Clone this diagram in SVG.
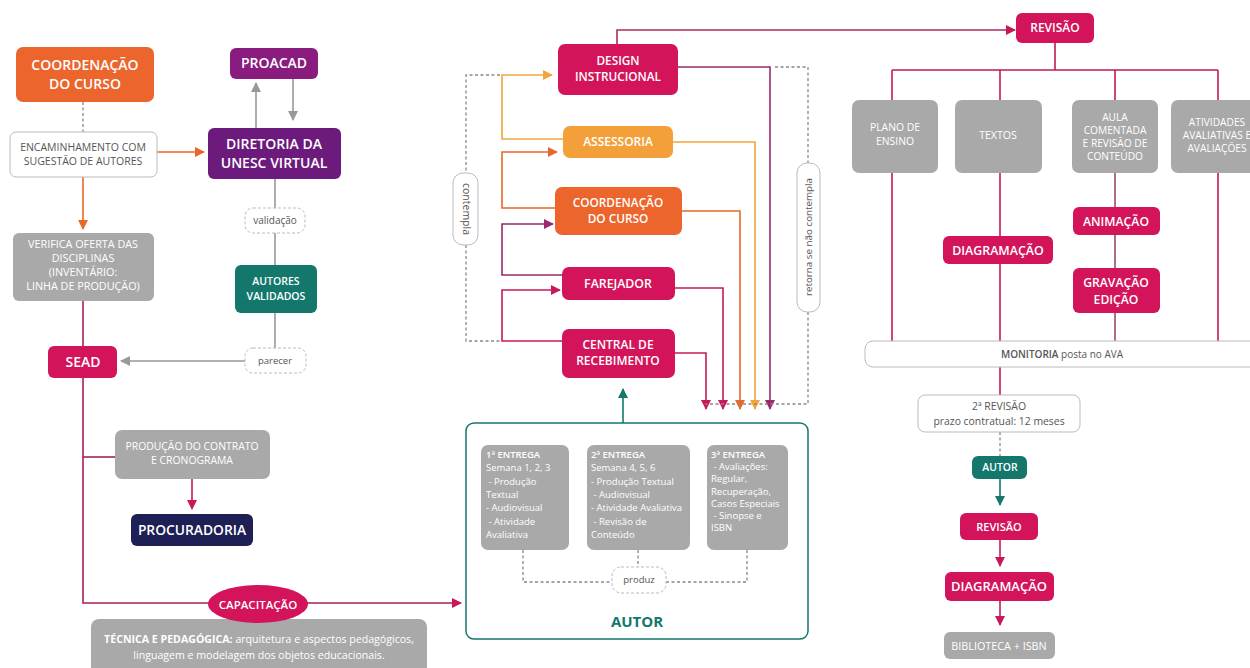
<svg xmlns="http://www.w3.org/2000/svg" width="1250" height="668" viewBox="0 0 1250 668">
<style>
text{font-family:"Open Sans","Noto Sans",sans-serif;}
.w{fill:#fff;font-weight:600;text-anchor:middle;}
.g{fill:#fff;text-anchor:middle;font-weight:500;}
.d{fill:#555;text-anchor:middle;}
.e{fill:#fff;font-size:9.5px;}
.crim{fill:#d3145a;}
.grey{fill:#a9a9a9;}
.lbl{fill:#fff;stroke:#bbb;stroke-width:1;}
.ln{fill:none;stroke-width:1.6;}
.dot{fill:none;stroke:#888;stroke-width:1.3;stroke-dasharray:3 2.5;}
</style>
<defs>
<marker id="aCrim" viewBox="0 0 10 10" refX="9" refY="5" markerWidth="10" markerHeight="10" markerUnits="userSpaceOnUse" orient="auto"><path d="M0,0 L10,5 L0,10 z" fill="#c8185c"/></marker>
<marker id="aPur" viewBox="0 0 10 10" refX="9" refY="5" markerWidth="10" markerHeight="10" markerUnits="userSpaceOnUse" orient="auto"><path d="M0,0 L10,5 L0,10 z" fill="#9a2a6e"/></marker>
<marker id="aOr" viewBox="0 0 10 10" refX="9" refY="5" markerWidth="10" markerHeight="10" markerUnits="userSpaceOnUse" orient="auto"><path d="M0,0 L10,5 L0,10 z" fill="#e8682a"/></marker>
<marker id="aYel" viewBox="0 0 10 10" refX="9" refY="5" markerWidth="10" markerHeight="10" markerUnits="userSpaceOnUse" orient="auto"><path d="M0,0 L10,5 L0,10 z" fill="#f0a63a"/></marker>
<marker id="aGrey" viewBox="0 0 10 10" refX="9" refY="5" markerWidth="10" markerHeight="10" markerUnits="userSpaceOnUse" orient="auto"><path d="M0,0 L10,5 L0,10 z" fill="#999"/></marker>
<marker id="aTeal" viewBox="0 0 10 10" refX="9" refY="5" markerWidth="10" markerHeight="10" markerUnits="userSpaceOnUse" orient="auto"><path d="M0,0 L10,5 L0,10 z" fill="#13776c"/></marker>
</defs>
<rect width="1250" height="668" fill="#fff"/>

<g id="connectors">
<line class="dot" x1="83" y1="102" x2="83" y2="132"/>
<line class="ln" stroke="#e8682a" x1="157" y1="152" x2="204" y2="152" marker-end="url(#aOr)"/>
<line class="ln" stroke="#e8682a" x1="83" y1="177" x2="83" y2="229" marker-end="url(#aOr)"/>
<line class="ln" stroke="#999" x1="256" y1="128" x2="256" y2="83" marker-end="url(#aGrey)"/>
<line class="ln" stroke="#999" x1="293" y1="78" x2="293" y2="120" marker-end="url(#aGrey)"/>
<line class="ln" stroke="#999" x1="275" y1="179" x2="275" y2="265"/>
<line class="ln" stroke="#999" x1="275" y1="313" x2="275" y2="348"/>
<line class="ln" stroke="#999" x1="245" y1="361" x2="121" y2="361" marker-end="url(#aGrey)"/>
<line class="ln" stroke="#a8205a" x1="83" y1="301" x2="83" y2="346"/>
<path class="ln" stroke="#a8205a" d="M83,378 V603 H461" marker-end="url(#aCrim)"/>
<line class="ln" stroke="#a8205a" x1="83" y1="457" x2="115" y2="457"/>
<line class="ln" stroke="#c8185c" x1="192" y1="479" x2="192" y2="509" marker-end="url(#aCrim)"/>
<path class="ln" stroke="#f0a63a" d="M563,139 H502 V75 H552" marker-end="url(#aYel)"/>
<path class="ln" stroke="#e8682a" d="M555,208 H502 V152 H557" marker-end="url(#aOr)"/>
<path class="ln" stroke="#9a2a6e" d="M562,275 H502 V224 H553" marker-end="url(#aPur)"/>
<path class="ln" stroke="#c8185c" d="M562,341 H502 V290 H560" marker-end="url(#aCrim)"/>
<path class="dot" d="M500,75 H466 V173 M466,245 V341 H500"/>
<path class="ln" stroke="#9a2a6e" d="M678,67 H770 V409" marker-end="url(#aPur)"/>
<path class="ln" stroke="#f0a63a" d="M673,142 H755 V409" marker-end="url(#aYel)"/>
<path class="ln" stroke="#e8682a" d="M682,211 H740 V409" marker-end="url(#aOr)"/>
<path class="ln" stroke="#c8185c" d="M675,288 H723 V409" marker-end="url(#aCrim)"/>
<path class="ln" stroke="#c8185c" d="M675,353 H706 V409" marker-end="url(#aCrim)"/>
<path class="dot" d="M775,67 H808 V163 M808,312 V404 H705"/>
<line class="ln" stroke="#13776c" x1="623" y1="423" x2="623" y2="389" marker-end="url(#aTeal)"/>
<path class="ln" stroke="#b02a62" d="M617,44 V30 H1015" marker-end="url(#aCrim)"/>
<path class="dot" d="M523,550 V582 H612 M666,582 H747 V550 M638,550 V567"/>
<line class="ln" stroke="#c0185a" x1="1055" y1="43" x2="1055" y2="70"/>
<line class="ln" stroke="#c0185a" x1="892" y1="70" x2="1218" y2="70"/>
<line class="ln" stroke="#c0185a" x1="892" y1="70" x2="892" y2="100"/>
<line class="ln" stroke="#c0185a" x1="1000" y1="70" x2="1000" y2="100"/>
<line class="ln" stroke="#c0185a" x1="1115" y1="70" x2="1115" y2="100"/>
<line class="ln" stroke="#c0185a" x1="1218" y1="70" x2="1218" y2="100"/>
<line class="ln" stroke="#c0185a" x1="892" y1="173" x2="892" y2="341"/>
<line class="ln" stroke="#c0185a" x1="1000" y1="173" x2="1000" y2="236"/>
<line class="ln" stroke="#c0185a" x1="1000" y1="264" x2="1000" y2="341"/>
<line class="ln" stroke="#9a4a70" stroke-width="1.2" x1="1115" y1="173" x2="1115" y2="207"/>
<line class="ln" stroke="#9a4a70" stroke-width="1.2" x1="1115" y1="235" x2="1115" y2="268"/>
<line class="ln" stroke="#9a4a70" stroke-width="1.2" x1="1115" y1="313" x2="1115" y2="341"/>
<line class="ln" stroke="#c0185a" x1="1218" y1="173" x2="1218" y2="341"/>
<line class="ln" stroke="#c0185a" x1="1000" y1="367" x2="1000" y2="395"/>
<line class="dot" x1="1000" y1="432" x2="1000" y2="456"/>
<line class="ln" stroke="#13776c" x1="1000" y1="479" x2="1000" y2="505" marker-end="url(#aTeal)"/>
<line class="ln" stroke="#c8185c" x1="1000" y1="540" x2="1000" y2="566" marker-end="url(#aCrim)"/>
<line class="ln" stroke="#c8185c" x1="1000" y1="601" x2="1000" y2="625" marker-end="url(#aCrim)"/>
</g>

<g id="coord1"><rect x="16" y="47" width="138" height="55" rx="7" fill="#ec652c"/>
<text class="w" font-size="14" x="85" y="70">COORDENAÇÃO</text><text class="w" font-size="14" x="85" y="89">DO CURSO</text></g>
<g id="encaminhamento"><rect x="10" y="132" width="147" height="45" rx="6" class="lbl"/>
<text class="d" font-size="10.5" x="83" y="151">ENCAMINHAMENTO COM</text><text class="d" font-size="10.5" x="83" y="165">SUGESTÃO DE AUTORES</text></g>
<g id="verifica"><rect x="13" y="233" width="141" height="68" rx="6" class="grey"/>
<text class="g" font-size="10.8" x="83" y="248">VERIFICA OFERTA DAS</text><text class="g" font-size="10.8" x="83" y="262">DISCIPLINAS</text><text class="g" font-size="10.8" x="83" y="276">(INVENTÁRIO:</text><text class="g" font-size="10.8" x="83" y="290">LINHA DE PRODUÇÃO)</text></g>
<g id="sead"><rect x="48" y="346" width="69" height="32" rx="6" class="crim"/>
<text class="w" font-size="14" x="83" y="367">SEAD</text></g>
<g id="proacad"><rect x="230" y="48" width="88" height="31" rx="6" fill="#8a1c80"/>
<text class="w" font-size="14" x="274" y="68">PROACAD</text></g>
<g id="diretoria"><rect x="208" y="128" width="133" height="51" rx="6" fill="#6c1b7c"/>
<text class="w" font-size="14" x="274" y="149">DIRETORIA DA</text><text class="w" font-size="14" x="274" y="168">UNESC VIRTUAL</text></g>
<g id="validacao"><rect x="245" y="208" width="60" height="25" rx="8" class="lbl" stroke-dasharray="3 2"/>
<text class="d" font-size="10" x="275" y="224">validação</text></g>
<g id="autoresvalidados"><rect x="235" y="265" width="82" height="48" rx="6" fill="#13776c"/>
<text class="w" font-size="10.5" x="276" y="285">AUTORES</text><text class="w" font-size="10.5" x="276" y="300">VALIDADOS</text></g>
<g id="parecer"><rect x="245" y="348" width="61" height="25" rx="8" class="lbl" stroke-dasharray="3 2"/>
<text class="d" font-size="9.5" x="275" y="364">parecer</text></g>
<g id="producao"><rect x="115" y="430" width="155" height="49" rx="7" class="grey"/>
<text class="g" font-size="10.4" x="192" y="450">PRODUÇÃO DO CONTRATO</text><text class="g" font-size="10.4" x="192" y="464">E CRONOGRAMA</text></g>
<g id="procuradoria"><rect x="131" y="514" width="122" height="32" rx="6" fill="#1e1f55"/>
<text class="w" font-size="13.8" x="192" y="535">PROCURADORIA</text></g>
<g id="tecnica"><rect x="91" y="619" width="336" height="60" rx="8" class="grey"/>
<text class="g" font-size="10.6" x="259" y="643"><tspan font-weight="700">TÉCNICA E PEDAGÓGICA:</tspan> arquitetura e aspectos pedagógicos,</text>
<text class="g" font-size="10.6" x="259" y="659">linguagem e modelagem dos objetos educacionais.</text></g>
<g id="capacitacao"><ellipse cx="258" cy="604" rx="50" ry="19" class="crim"/>
<text class="w" font-size="11.5" x="258" y="609">CAPACITAÇÃO</text></g>

<g id="design"><rect x="558" y="44" width="120" height="51" rx="7" class="crim"/>
<text class="w" font-size="11.8" x="618" y="65">DESIGN</text><text class="w" font-size="11.8" x="618" y="81">INSTRUCIONAL</text></g>
<g id="assessoria"><rect x="563" y="126" width="110" height="32" rx="7" fill="#f4a03a"/>
<text class="w" font-size="12" x="618" y="146">ASSESSORIA</text></g>
<g id="coord2"><rect x="555" y="187" width="127" height="48" rx="7" fill="#ec652c"/>
<text class="w" font-size="11.8" x="618" y="207">COORDENAÇÃO</text><text class="w" font-size="11.8" x="618" y="223">DO CURSO</text></g>
<g id="farejador"><rect x="562" y="267" width="113" height="33" rx="7" class="crim"/>
<text class="w" font-size="12.3" x="618" y="288">FAREJADOR</text></g>
<g id="central"><rect x="562" y="329" width="113" height="49" rx="7" class="crim"/>
<text class="w" font-size="12" x="618" y="349">CENTRAL DE</text><text class="w" font-size="12" x="618" y="365">RECEBIMENTO</text></g>
<g id="contempla"><rect x="453" y="173" width="25" height="72" rx="10" class="lbl"/>
<text class="d" font-size="10.5" transform="translate(466,209) rotate(90)" y="3.5">contempla</text></g>
<g id="retorna"><rect x="797" y="163" width="23" height="149" rx="10" class="lbl"/>
<text class="d" font-size="9.8" transform="translate(808,237) rotate(-90)" y="3.5">retorna se não contempla</text></g>

<g id="autor"><rect x="466" y="423" width="342" height="216" rx="8" fill="none" stroke="#13776c" stroke-width="1.5"/>
<text font-size="15" font-weight="700" fill="#13776c" text-anchor="middle" x="637" y="627">AUTOR</text></g>
<g id="entrega1"><rect x="481" y="445" width="88" height="105" rx="7" class="grey"/>
<text class="e" x="486" y="458"><tspan font-weight="600">1ª ENTREGA</tspan><tspan x="486" dy="13.3">Semana 1, 2, 3</tspan><tspan x="486" dy="13.3"> - Produção</tspan><tspan x="486" dy="13.3">Textual</tspan><tspan x="486" dy="13.3">- Audiovisual</tspan><tspan x="486" dy="13.3"> - Atividade</tspan><tspan x="486" dy="13.3">Avaliativa</tspan></text></g>
<g id="entrega2"><rect x="587" y="445" width="103" height="105" rx="7" class="grey"/>
<text class="e" x="591" y="458"><tspan font-weight="600">2ª ENTREGA</tspan><tspan x="591" dy="13.3">Semana 4, 5, 6</tspan><tspan x="591" dy="13.3">- Produção Textual</tspan><tspan x="591" dy="13.3"> - Audiovisual</tspan><tspan x="591" dy="13.3">- Atividade Avaliativa</tspan><tspan x="591" dy="13.3"> - Revisão de</tspan><tspan x="591" dy="13.3">Conteúdo</tspan></text></g>
<g id="entrega3"><rect x="707" y="445" width="81" height="105" rx="7" class="grey"/>
<text class="e" x="711" y="458"><tspan font-weight="600">3ª ENTREGA</tspan><tspan x="711" dy="12.2"> - Avaliações:</tspan><tspan x="711" dy="12.2">Regular,</tspan><tspan x="711" dy="12.2">Recuperação,</tspan><tspan x="711" dy="12.2">Casos Especiais</tspan><tspan x="711" dy="12.2"> - Sinopse e</tspan><tspan x="711" dy="12.2">ISBN</tspan></text></g>
<g id="produz"><rect x="612" y="567" width="54" height="26" rx="9" class="lbl" stroke-dasharray="3 2"/>
<text class="d" font-size="9.5" x="639" y="583">produz</text></g>

<g id="revisao1"><rect x="1016" y="13" width="78" height="30" rx="6" class="crim"/>
<text class="w" font-size="12" x="1055" y="32">REVISÃO</text></g>
<g id="plano"><rect x="852" y="100" width="86" height="73" rx="7" class="grey"/>
<text class="g" font-size="10.4" x="895" y="131">PLANO DE</text><text class="g" font-size="10.4" x="895" y="145">ENSINO</text></g>
<g id="textos"><rect x="955" y="100" width="87" height="73" rx="7" class="grey"/>
<text class="g" font-size="10.6" x="998" y="139">TEXTOS</text></g>
<g id="aula"><rect x="1072" y="100" width="86" height="73" rx="7" class="grey"/>
<text class="g" font-size="10.2" x="1115" y="121">AULA</text><text class="g" font-size="10.2" x="1115" y="134">COMENTADA</text><text class="g" font-size="10.2" x="1115" y="147">E REVISÃO DE</text><text class="g" font-size="10.2" x="1115" y="160">CONTEÚDO</text></g>
<g id="atividades"><rect x="1171" y="100" width="95" height="73" rx="7" class="grey"/>
<text class="g" font-size="10.2" x="1217" y="126">ATIVIDADES</text><text class="g" font-size="10.2" x="1217" y="139">AVALIATIVAS E</text><text class="g" font-size="10.2" x="1217" y="152">AVALIAÇÕES</text></g>
<g id="diagramacao1"><rect x="943" y="236" width="110" height="28" rx="6" class="crim"/>
<text class="w" font-size="12.4" x="998" y="255">DIAGRAMAÇÃO</text></g>
<g id="animacao"><rect x="1073" y="207" width="87" height="28" rx="6" class="crim"/>
<text class="w" font-size="12.2" x="1116" y="226">ANIMAÇÃO</text></g>
<g id="gravacao"><rect x="1073" y="268" width="87" height="45" rx="6" class="crim"/>
<text class="w" font-size="12.2" x="1116" y="287">GRAVAÇÃO</text><text class="w" font-size="12.2" x="1116" y="304">EDIÇÃO</text></g>
<g id="monitoria"><rect x="865" y="341" width="400" height="26" rx="8" class="lbl"/>
<text class="d" font-size="10" x="1062" y="358"><tspan font-weight="600">MONITORIA</tspan> posta no AVA</text></g>
<g id="revisao2"><rect x="918" y="395" width="162" height="37" rx="7" class="lbl"/>
<text class="d" font-size="10.4" x="999" y="410">2ª REVISÃO</text><text class="d" font-size="10.4" x="999" y="425">prazo contratual: 12 meses</text></g>
<g id="autor2"><rect x="972" y="456" width="55" height="23" rx="6" fill="#13776c"/>
<text class="w" font-size="10.4" x="1000" y="471">AUTOR</text></g>
<g id="revisao3"><rect x="960" y="513" width="78" height="27" rx="6" class="crim"/>
<text class="w" font-size="11" x="999" y="531">REVISÃO</text></g>
<g id="diagramacao2"><rect x="945" y="572" width="109" height="29" rx="6" class="crim"/>
<text class="w" font-size="13" x="999" y="591">DIAGRAMAÇÃO</text></g>
<g id="biblioteca"><rect x="944" y="632" width="111" height="27" rx="6" class="grey"/>
<text class="g" font-size="10.8" x="999" y="650">BIBLIOTECA + ISBN</text></g>
</svg>
